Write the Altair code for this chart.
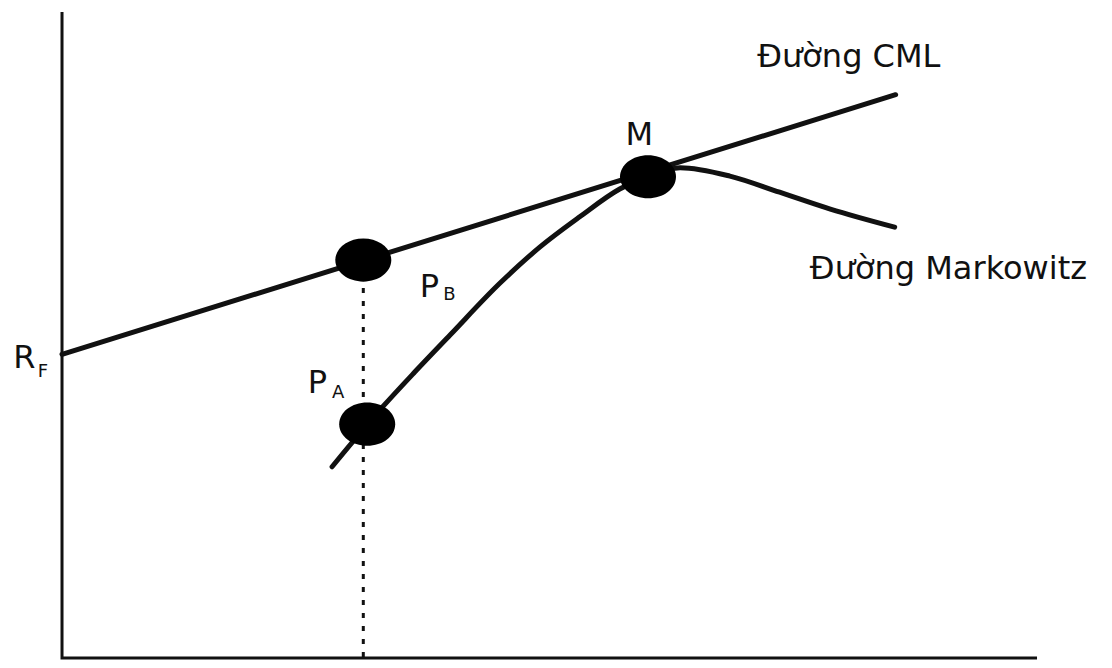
import altair as alt
import pandas as pd

# ---- data (abstract units: x = risk, y = expected return) ----
cml_x = [0.0, 8.55]
cml_y = [4.70, 8.72]

mk_x = [2.77, 3.29, 3.62, 3.98, 4.49, 4.90, 5.31, 5.72, 6.01, 6.34, 6.85, 7.36, 7.88, 8.54]
mk_y = [2.96, 3.89, 4.43, 5.00, 5.80, 6.36, 6.83, 7.26, 7.46, 7.59, 7.46, 7.21, 6.95, 6.67]

pt_names = ["P_B", "P_A", "M"]
pt_x = [3.09, 3.13, 6.01]
pt_y = [6.16, 3.62, 7.45]

drop_x = [3.09, 3.09]
drop_y = [6.13, 0.0]

axis_x = [0.0, 0.0, 10.0]
axis_y = [10.0, 0.0, 0.0]

main_text = ["Đường CML", "Đường Markowitz", "M", "R", "P", "P"]
main_x = [7.13, 7.67, 5.78, -0.50, 2.52, 3.67]
main_y = [9.15, 5.87, 7.94, 4.49, 4.10, 5.59]

sub_text = ["F", "A", "B"]
sub_x = [-0.25, 2.77, 3.91]
sub_y = [4.35, 4.02, 5.54]

# ---- scales ----
xs = alt.Scale(domain=[-0.554, 10.687], nice=False, zero=False)
ys = alt.Scale(domain=[-0.031, 10.062], nice=False, zero=False)

def X(f):
    return alt.X(f, type="quantitative", scale=xs, axis=None)

def Y(f):
    return alt.Y(f, type="quantitative", scale=ys, axis=None)

INK = "#111111"
ELLIPSE = "M -1 0 A 1 0.77 0 1 0 1 0 A 1 0.77 0 1 0 -1 0 Z"

axes = alt.Chart(pd.DataFrame({"x": axis_x, "y": axis_y, "o": [0, 1, 2]})).mark_line(
    color=INK, strokeWidth=3, strokeJoin="miter"
).encode(x=X("x"), y=Y("y"), order="o:Q")

cml = alt.Chart(pd.DataFrame({"x": cml_x, "y": cml_y})).mark_line(
    color=INK, strokeWidth=5, strokeCap="round"
).encode(x=X("x"), y=Y("y"))

mk = alt.Chart(pd.DataFrame({"x": mk_x, "y": mk_y})).mark_line(
    color=INK, strokeWidth=5, strokeCap="round", interpolate="monotone"
).encode(x=X("x"), y=Y("y"))

drop = alt.Chart(pd.DataFrame({"x": drop_x, "y": drop_y})).mark_line(
    color=INK, strokeWidth=3, strokeDash=[5, 8]
).encode(x=X("x"), y=Y("y"))

pts = alt.Chart(pd.DataFrame({"name": pt_names, "x": pt_x, "y": pt_y})).mark_point(
    shape=ELLIPSE, size=3136, filled=True, color="#000000", opacity=1
).encode(x=X("x"), y=Y("y"))

main_lbl = alt.Chart(pd.DataFrame({"t": main_text, "x": main_x, "y": main_y})).mark_text(
    font="DejaVu Sans", fontSize=32, align="left", baseline="alphabetic", color=INK
).encode(x=X("x"), y=Y("y"), text="t:N")

sub_lbl = alt.Chart(pd.DataFrame({"t": sub_text, "x": sub_x, "y": sub_y})).mark_text(
    font="DejaVu Sans", fontSize=18, align="left", baseline="alphabetic", color=INK
).encode(x=X("x"), y=Y("y"), text="t:N")

chart = alt.layer(axes, drop, cml, mk, pts, main_lbl, sub_lbl).properties(
    width=1096, height=652,
    autosize=alt.AutoSizeParams(type="none"),
    padding=0,
    background="white",
).configure_view(stroke=None)

chart.save("out.html", embed_options={"renderer": "svg", "actions": False})
